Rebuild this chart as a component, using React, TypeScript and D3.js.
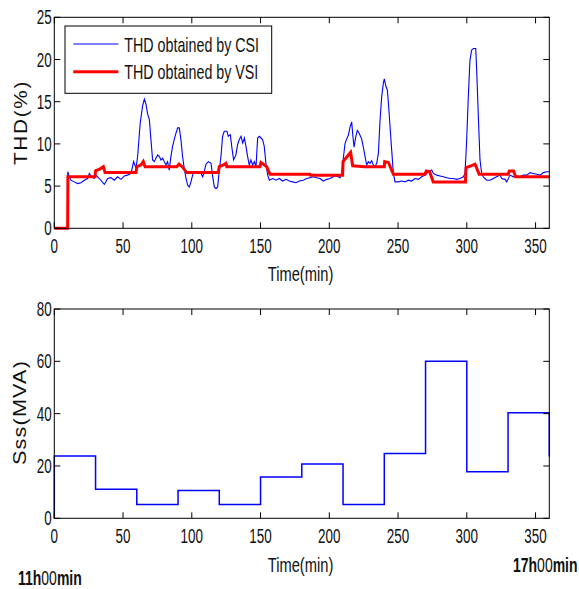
import React from 'react';
import * as d3 from 'd3';

// tick labels
const xTicks = [0, 50, 100, 150, 200, 250, 300, 350];
const thdTicks = [0, 5, 10, 15, 20, 25];
const sssTicks = [0, 20, 40, 60, 80];

// THD obtained by CSI (blue)
const csiMinutes = [
  0, 9.6, 9.8, 10.5, 12, 14.5, 17, 19.4, 21.8, 24.2, 25.5, 26.7, 29, 30.3, 32.7, 36.4, 38.8, 41.2,
  43.6, 46, 48.5, 51, 53.3, 55.8, 57.7, 59.4, 60.6, 62.5, 64.2, 65.5, 66.7, 67.9, 69.1, 70.3, 71.5,
  72.7, 73.9, 75.2, 76.4, 77.6, 78.8, 80, 81.2, 82.4, 83.6, 84.8, 86, 87.8, 89.7, 90.9, 92.1, 93.3,
  94.5, 95.8, 97, 98.2, 99.4, 100.6, 101.8, 104.2, 106.7, 107.9, 109, 110.3, 112, 114, 115.2, 116.4,
  117.6, 118.8, 120, 121.2, 122.4, 123.6, 125.6, 126.5, 128, 129.2, 130.4, 132.1, 133.3, 134.5,
  135.8, 137, 138.2, 139.4, 140.6, 141.8, 143, 144.2, 145.5, 146.7, 147.9, 149.1, 150.3, 151.5,
  152.7, 153.9, 155.2, 156.4, 158.8, 161.2, 163.6, 166, 168.5, 170.9, 173.3, 175.8, 178.2, 181.1,
  183.5, 186, 188.4, 190.8, 193.2, 195.7, 198.1, 200.5, 203, 205.4, 207.8, 209, 210.2, 211.4, 212.6,
  213.8, 215.1, 216.3, 217, 218, 219.2, 220.4, 221.9, 223.5, 224.8, 226, 227.2, 228.4, 229.6, 230.8,
  232, 233.2, 234.5, 235.7, 236.9, 238.1, 239.3, 240, 241.2, 242.2, 243.2, 244.2, 245.4, 246.6,
  247.8, 250.2, 252.6, 255, 257.5, 259.9, 262.3, 264.8, 267.2, 269.6, 272, 274.5, 275.7, 278.1,
  280.5, 283, 285.4, 287.8, 290.2, 292.6, 295.1, 297.5, 298.7, 299.9, 301.1, 302.3, 303.5, 304.8,
  306.5, 307.2, 308.4, 309.6, 310.8, 312, 314.5, 316.9, 319.3, 321.7, 324.2, 325.4, 327.8, 329,
  331.4, 333.9, 336.3, 338.7, 341.1, 343.6, 346, 348.4, 350.8, 353.3, 355.7, 358.1, 360,
];
const csiThd = [
  0, 0, 6.7, 6.3, 5.7, 5.5, 5.3, 5.4, 5.7, 5.9, 6.5, 6.2, 5.9, 6.3, 5.9, 5.2, 5.9, 6.0,
  5.7, 6.1, 5.8, 6.2, 6.3, 6.5, 7.9, 7.1, 8.5, 12.5, 14.5, 15.3, 14.7, 13.5, 12.9, 10.5, 8.1,
  7.9, 8.3, 8.7, 8.5, 8.1, 8.3, 7.9, 7.5, 7.9, 6.9, 8.5, 9.7, 10.9, 11.9, 11.9, 10.5, 8.5,
  7.1, 5.9, 5.1, 4.9, 5.5, 6.3, 6.7, 6.6, 6.5, 6.1, 6.7, 7.6, 7.9, 7.7, 6.1, 4.9,
  4.7, 4.9, 6.9, 8.5, 10.9, 11.5, 11.5, 10.9, 11.1, 9.5, 8.1, 8.7, 9.9, 10.5,
  10.9, 10.1, 10.7, 9.7, 8.5, 7.5, 8.1, 7.5, 7.9, 7.3, 10.7, 10.9, 10.7, 10.5,
  9.7, 7.7, 6.3, 5.7, 5.9, 5.7, 5.9, 5.6, 5.8, 5.6, 5.5, 5.4, 5.6, 5.7,
  5.9, 6.0, 6.1, 6.0, 5.9, 5.6, 5.8, 5.9, 6.1, 6.2, 6.0, 6.5, 8.3, 10.0, 10.6,
  11.0, 12.0, 12.6, 11.2, 9.6, 10.8, 11.6, 11.2, 10.6, 9.6, 8.5, 7.5, 7.9, 7.7, 8.0,
  7.5, 7.3, 7.7, 8.9, 12.8, 15.6, 17.2, 17.7, 16.8, 16.4, 14.4, 12.0, 9.2, 6.5,
  5.5, 5.5, 5.6, 5.5, 5.7, 5.6, 5.9, 5.8, 6.1, 6.3, 6.7, 6.9, 6.5, 6.3,
  6.2, 6.1, 6.0, 5.9, 5.9, 5.8, 5.9, 6.1, 6.5, 10.4, 15.6, 19.9, 21.1, 21.3,
  21.3, 18.7, 13.2, 8.1, 6.5, 6.1, 5.7, 5.7, 5.9, 6.1, 6.3, 5.9, 5.8, 5.5,
  6.3, 6.1, 6.2, 6.1, 6.3, 6.3, 6.6, 6.5, 6.4, 6.3, 6.6, 6.7, 6.7,
];

// THD obtained by VSI (red)
const vsiMinutes = [
  0, 9.7, 9.9, 29.6, 30, 33, 35.7, 36.9, 59.4, 60, 63, 64.7, 66, 89, 90.7, 93, 96.3, 119.3, 120,
  123, 124.8, 125.5, 149.6, 150.3, 152, 154.5, 156.9, 186, 186.3, 209.7, 210, 213, 215.5, 217, 226,
  240, 240.3, 243, 246.6, 269.6, 270.5, 273, 275.6, 299, 299.5, 303, 306, 309, 330, 331, 334,
  335.5, 360,
];
const vsiThd = [
  0, 0, 6.1, 6.1, 6.8, 7.0, 7.3, 6.6, 6.6, 7.3, 7.5, 7.9, 7.3, 7.3, 7.6, 7.3, 6.6, 6.6, 7.3,
  7.5, 7.7, 7.3, 7.3, 7.8, 7.6, 7.3, 6.4, 6.4, 6.3, 6.3, 7.9, 8.5, 9.0, 7.4, 7.3,
  7.3, 7.9, 7.8, 6.4, 6.4, 6.8, 6.7, 5.5, 5.5, 7.2, 7.4, 7.6, 6.4, 6.4, 6.8, 6.8,
  6.1, 6.1,
];

// short-circuit power
const sssMinutes = [0, 0, 30, 60, 90, 120, 150, 180, 210, 240, 270, 300, 330, 360];
const sssMva = [0, 23.8, 11.1, 5.3, 10.6, 5.3, 15.8, 20.8, 5.3, 24.8, 60, 17.8, 40.3, 23.6];

const left = 54.3;
const right = 549.3;
const top1 = 17.3;
const bottom1 = 228.3;
const top2 = 309;
const bottom2 = 518.3;
const tickLen = 6;
const font = '"Liberation Sans", Arial, sans-serif';
const ink = '#111';

const x = d3.scaleLinear().domain([0, 360]).range([left, right]);
const yThd = d3.scaleLinear().domain([0, 25]).range([bottom1, top1]);
const ySss = d3.scaleLinear().domain([0, 80]).range([bottom2, top2]);

const T = ({ x0, y0, sx = 0.7, size = 21, anchor = 'start', weight = 'normal', children }: any) => (
  <text
    transform={`translate(${x0},${y0}) scale(${sx},1)`}
    fontFamily={font}
    fontSize={size}
    fontWeight={weight}
    textAnchor={anchor}
    fill={ink}
  >
    {children}
  </text>
);

const Frame = ({ y, top, bottom, ticks }: any) => (
  <g>
    <rect x={left} y={top} width={right - left} height={bottom - top} fill="none" stroke="#000" strokeWidth={1} />
    {xTicks.map(t => (
      <g key={'x' + t}>
        <line x1={x(t)} x2={x(t)} y1={bottom} y2={bottom - tickLen} stroke="#000" />
        <line x1={x(t)} x2={x(t)} y1={top} y2={top + tickLen} stroke="#000" />
        <T x0={x(t)} y0={bottom + 24.7} sx={0.64} anchor="middle">{t}</T>
      </g>
    ))}
    {ticks.map((t: number) => (
      <g key={'y' + t}>
        <line x1={left} x2={left + tickLen} y1={y(t)} y2={y(t)} stroke="#000" />
        <line x1={right} x2={right - tickLen} y1={y(t)} y2={y(t)} stroke="#000" />
        <T x0={left - 2.5} y0={y(t) + 7} sx={0.64} anchor="end">{t}</T>
      </g>
    ))}
  </g>
);

export default function App() {
  const csiLine = d3.line<number>().x(i => x(csiMinutes[i])).y(i => yThd(csiThd[i]));
  const vsiLine = d3.line<number>().x(i => x(vsiMinutes[i])).y(i => yThd(vsiThd[i]));
  const sssLine = d3
    .line<number>()
    .x(i => x(sssMinutes[i]))
    .y(i => ySss(sssMva[i]))
    .curve(d3.curveStepAfter);

  return (
    <svg width={579} height={589} style={{ position: 'absolute', left: 0, top: 0, background: '#fff' }}>
      <rect width={579} height={589} fill="#fff" />

      {/* top chart: THD */}
      <path d={csiLine(d3.range(csiMinutes.length)) || ''} fill="none" stroke="#0000ff" strokeWidth={1.1} />
      <path d={vsiLine(d3.range(vsiMinutes.length)) || ''} fill="none" stroke="#ff0000" strokeWidth={3} />
      <Frame y={yThd} top={top1} bottom={bottom1} ticks={thdTicks} />

      {/* legend */}
      <rect x={65} y={26} width={206.7} height={67.3} fill="#fff" stroke="#000" strokeWidth={1} />
      <line x1={73.3} x2={118.3} y1={44} y2={44} stroke="#0000ff" strokeWidth={1.1} />
      <line x1={73.3} x2={118.3} y1={71.7} y2={71.7} stroke="#ff0000" strokeWidth={3} />
      <T x0={124.3} y0={51.5} sx={0.68}>THD obtained by CSI</T>
      <T x0={124.3} y0={79.2} sx={0.68}>THD obtained by VSI</T>

      <T x0={300.5} y0={281} anchor="middle">Time(min)</T>
      <text
        transform="translate(26.5,122.5) rotate(-90) scale(1.15,1)"
        fontFamily={font}
        fontSize={18}
        letterSpacing={1.5}
        textAnchor="middle"
        fill={ink}
      >
        THD(%)
      </text>

      {/* bottom chart: Sss */}
      <path d={sssLine(d3.range(sssMinutes.length)) || ''} fill="none" stroke="#0000ff" strokeWidth={1.5} />
      <Frame y={ySss} top={top2} bottom={bottom2} ticks={sssTicks} />
      <T x0={300.5} y0={572} anchor="middle">Time(min)</T>
      <text
        transform="translate(26,412.5) rotate(-90) scale(1.2,1)"
        fontFamily={font}
        fontSize={18}
        letterSpacing={1}
        textAnchor="middle"
        fill={ink}
      >
        Sss(MVA)
      </text>

      <T x0={18} y0={585} size={20} weight="bold">
        11h<tspan fontWeight="normal">00</tspan>min
      </T>
      <T x0={513} y0={572} size={20} weight="bold">
        17h<tspan fontWeight="normal">00</tspan>min
      </T>
    </svg>
  );
}
